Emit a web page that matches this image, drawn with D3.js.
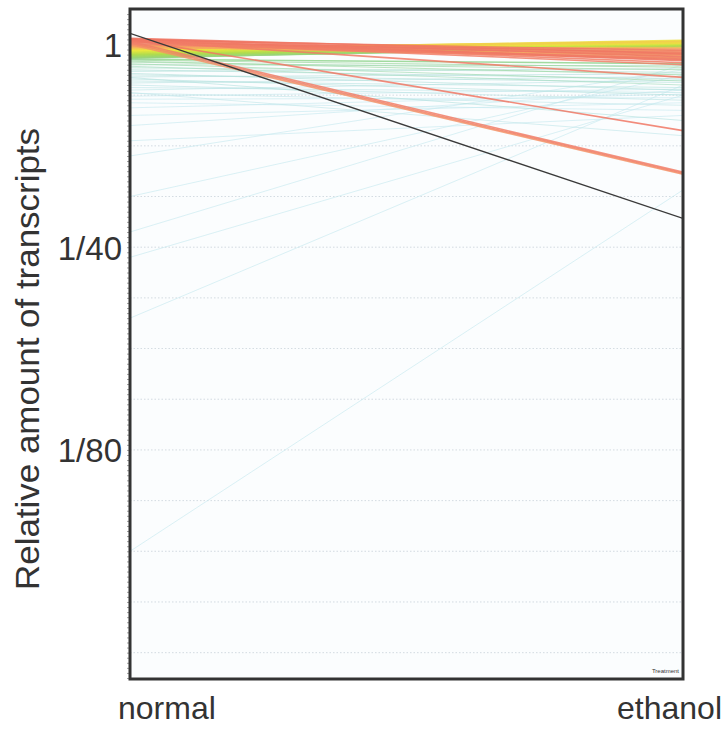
<!DOCTYPE html>
<html><head><meta charset="utf-8">
<script src="https://cdn.jsdelivr.net/npm/d3@7"></script>
<style>body{margin:0;background:#fff} svg{display:block}</style>
</head><body>
<script>
// Conditions on the x axis
const conditions = ["normal", "ethanol"];
// Relative transcript level (axis units: 0 = "1", 40 = "1/40", 80 = "1/80")
const normalLevels = [
  -1.2,-1.1,-1.0,-0.95,-0.9,-0.8,-0.7,-0.6,-0.5,-0.4,-0.3,-0.2,-0.1,0.0,-0.75,-0.55,
  0.1,0.2,0.3,0.4,0.5,0.6,0.7,0.35,
  0.8,0.9,1.0,1.1,1.2,1.3,1.4,1.5,1.6,1.7,1.25,1.45,0.95,1.15,
  1.8,1.9,2.0,2.1,2.2,2.4,2.5,2.7,2.9,2.3,2.6,
  3.1,3.3,3.5,3.8,4.0,4.3,4.6,5.0,5.3,5.7,6.0,6.4,6.8,
  7.2,7.6,8.0,8.5,9.0,9.6,10.2,10.8,11.5,12.5,14.0,
  16,22,30,37,42,54,100,19,6.5,9.5
];
const ethanolLevels = [
  1.8,2.4,17.0,3.2,1.2,2.9,3.6,25.2,2.0,1.5,25.4,3.0,2.6,25.6,6.5,4.0,
  1.0,1.6,0.8,2.2,1.3,1.9,0.6,2.7,
  -0.6,-0.3,-0.8,-0.5,-0.2,-0.7,-0.4,0.0,-0.55,-0.1,-0.45,-0.25,-0.65,-0.35,
  0.1,-0.2,0.3,0.0,0.2,-0.1,0.4,0.1,3.8,0.25,0.5,
  4.5,6.0,5.0,7.2,4.2,8.0,5.5,6.8,4.8,9.0,7.5,5.8,10.0,
  8.5,6.3,11.0,9.5,7.0,12.0,8.8,10.5,13.0,9.8,11.5,
  9,5,6,4,10,8,28.7,14,15,18
];
// Reference (control) gene
const referenceNormal = [-2.2];
const referenceEthanol = [34.3];
// Axis ticks
const tickValues = [0, 40, 80];
const tickLabels = ["1", "1/40", "1/80"];
const gridValues = [10, 20, 30, 40, 50, 60, 70, 80, 90, 100, 110, 120];
const legendLabel = "Treatment";

const W = 725, H = 729;
const L = 130, R = 683, T = 9, B = 679;
const font = "'Liberation Sans', Arial, Helvetica, sans-serif";

const svg = d3.select("body").append("svg").attr("width", W).attr("height", H);
svg.append("rect").attr("width", W).attr("height", H).attr("fill", "#fff");

const x = d3.scalePoint().domain(conditions).range([L, R]);
const y = d3.scaleLinear().domain([-7, 125.2]).range([T, B]);

const color = d3.scaleLinear()
  .domain([-1.2, -0.2, 0.5, 1.1, 1.9, 2.8, 5, 11])
  .range(["#ef7462", "#f2846a", "#f5b45c", "#ece83e", "#b0dc4c", "#8fd28a", "#b0dfd8", "#c8e9f0"])
  .clamp(true);

svg.append("defs").append("clipPath").attr("id", "clip")
  .append("rect").attr("x", L).attr("y", T).attr("width", R - L).attr("height", B - T);

const plot = svg.append("g").attr("clip-path", "url(#clip)");
plot.append("rect").attr("x", L).attr("y", T).attr("width", R - L).attr("height", B - T).attr("fill", "#fbfdfe");

// gridlines
plot.selectAll("line.grid").data(gridValues).join("line")
  .attr("class", "grid")
  .attr("x1", L).attr("x2", R)
  .attr("y1", d => y(d)).attr("y2", d => y(d))
  .attr("stroke", "#a9b8c4").attr("stroke-width", 0.8)
  .attr("stroke-dasharray", "1.5,2").attr("opacity", 0.6);

const line = d3.line().x(d => x(d[0])).y(d => y(d[1]));
const rows = normalLevels.map((n, i) => ({ n, e: ethanolLevels[i] }));
// draw cooler (lower) lines first, warm on top
rows.sort((a, b) => b.n - a.n);

plot.selectAll("path.gene").data(rows).join("path")
  .attr("class", "gene")
  .attr("d", d => line([[conditions[0], d.n], [conditions[1], d.e]]))
  .attr("fill", "none")
  .attr("stroke", d => color(d.n))
  .attr("stroke-width", d => d.n > 3 ? 1 : 1.6)
  .attr("opacity", d => d.n > 3 ? 0.65 : 0.85);

plot.selectAll("path.ref").data(referenceNormal.map((n, i) => ({ n, e: referenceEthanol[i] }))).join("path")
  .attr("class", "ref")
  .attr("d", d => line([[conditions[0], d.n], [conditions[1], d.e]]))
  .attr("fill", "none").attr("stroke", "#3a3a3a").attr("stroke-width", 1.3);

// minor ticks on left axis
const minor = svg.append("g").attr("transform", `translate(${L},0)`)
  .call(d3.axisLeft(y).tickValues(d3.range(-6, 126, 1)).tickSize(3).tickFormat(""));
minor.select(".domain").remove();
minor.selectAll("line").attr("stroke", "#777").attr("stroke-width", 0.7);

// major labels
const major = svg.append("g").attr("transform", `translate(${L},0)`)
  .call(d3.axisLeft(y).tickValues(tickValues).tickSize(0).tickPadding(8)
    .tickFormat((d, i) => tickLabels[i]));
major.select(".domain").remove();
major.selectAll("text").attr("font-family", font).attr("font-size", 33).attr("fill", "#333")
  .attr("dy", "0.36em");

// frame
svg.append("rect").attr("x", L).attr("y", T).attr("width", R - L).attr("height", B - T)
  .attr("fill", "none").attr("stroke", "#333").attr("stroke-width", 3);

// x labels
svg.append("text").attr("x", x("normal") - 12).attr("y", 719)
  .attr("font-family", font).attr("font-size", 32).attr("fill", "#333")
  .attr("text-anchor", "start").text(conditions[0]);
svg.append("text").attr("x", x("ethanol") + 39).attr("y", 719)
  .attr("font-family", font).attr("font-size", 32).attr("fill", "#333")
  .attr("text-anchor", "end").text(conditions[1]);

// y title
svg.append("text").attr("transform", "translate(39,359) rotate(-90)")
  .attr("font-family", font).attr("font-size", 33).attr("fill", "#333")
  .attr("text-anchor", "middle")
  .attr("textLength", 462).attr("lengthAdjust", "spacingAndGlyphs")
  .text("Relative amount of transcripts");

// small legend label
svg.append("text").attr("x", R - 4).attr("y", B - 6)
  .attr("font-family", font).attr("font-size", 6).attr("fill", "#333")
  .attr("text-anchor", "end").text(legendLabel);
</script>
</body></html>
